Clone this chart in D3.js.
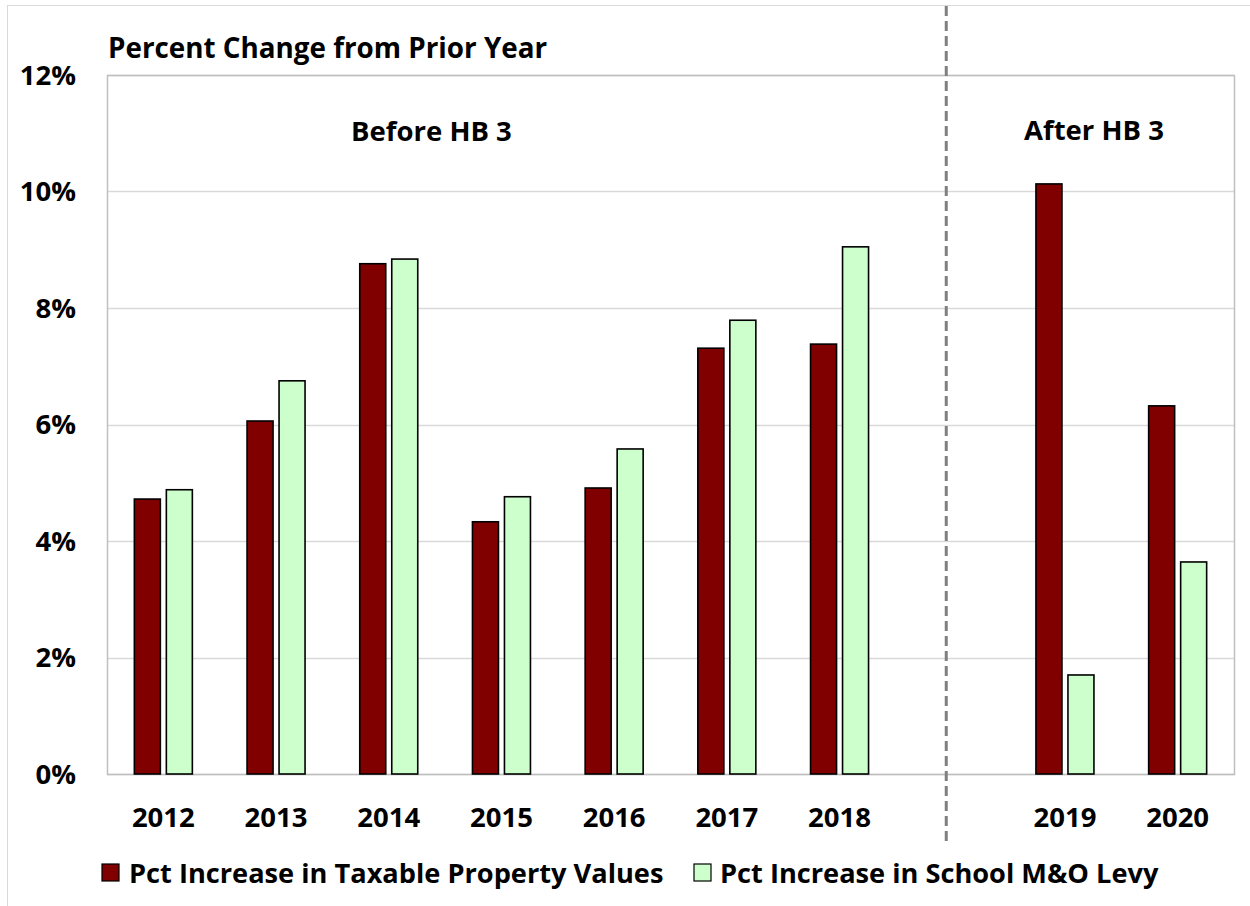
<!DOCTYPE html>
<html><head><meta charset="utf-8">
<script src="https://cdn.jsdelivr.net/npm/d3@7"></script>
<style>body{margin:0;background:#fff}svg{display:block}text{font-family:"Open Sans",sans-serif;font-weight:bold;fill:#000}</style>
</head><body>
<script>
const categories = ["2012","2013","2014","2015","2016","2017","2018","","2019","2020"];
const propertyValues = [4.72, 6.06, 8.76, 4.33, 4.91, 7.31, 7.38, null, 10.13, 6.32];
const levyValues = [4.88, 6.75, 8.84, 4.76, 5.58, 7.79, 9.05, null, 1.70, 3.64];
const yTicks = [0, 2, 4, 6, 8, 10, 12];
const seriesNames = ["Pct Increase in Taxable Property Values", "Pct Increase in School M&O Levy"];
const colors = ["#800000", "#ccffcc"];

const W = 1250, H = 906;
const svg = d3.select("body").append("svg").attr("width", W).attr("height", H);
const m = {left: 107, right: 1234, top: 75, bottom: 774};

svg.append("rect").attr("x", 7.5).attr("y", 5.5).attr("width", W + 10).attr("height", H + 10)
  .attr("fill", "none").attr("stroke", "#d9d9d9").attr("stroke-width", 1);

const x = d3.scaleBand().domain(d3.range(categories.length)).range([m.left, m.right]);
const y = d3.scaleLinear().domain([0, 12]).range([m.bottom, m.top]);

svg.append("g").selectAll("line").data(yTicks).join("line")
  .attr("x1", m.left).attr("x2", m.right)
  .attr("y1", d => Math.round(y(d)) + 0.5).attr("y2", d => Math.round(y(d)) + 0.5)
  .attr("stroke", "#d9d9d9").attr("stroke-width", 1.5);

svg.append("rect").attr("x", m.left + 0.5).attr("y", m.top + 0.5)
  .attr("width", m.right - m.left).attr("height", m.bottom - m.top)
  .attr("fill", "none").attr("stroke", "#bfbfbf").attr("stroke-width", 1.5);

svg.append("g").selectAll("text").data(yTicks).join("text")
  .attr("x", 76).attr("y", d => y(d)).attr("dy", "0.36em")
  .attr("text-anchor", "end").attr("font-size", 27.5)
  .text(d => d + "%");

const bw = 26, gap = 6;
const data = categories.map((c, i) => ({i, c, a: propertyValues[i], b: levyValues[i]})).filter(d => d.c !== "");
const g = svg.append("g");
data.forEach(d => {
  const cx = x(d.i) + x.bandwidth() / 2;
  g.append("rect").attr("x", cx - gap / 2 - bw).attr("width", bw)
    .attr("y", y(d.a)).attr("height", y(0) - y(d.a))
    .attr("fill", colors[0]).attr("stroke", "#000").attr("stroke-width", 1.6);
  g.append("rect").attr("x", cx + gap / 2).attr("width", bw)
    .attr("y", y(d.b)).attr("height", y(0) - y(d.b))
    .attr("fill", colors[1]).attr("stroke", "#000").attr("stroke-width", 1.6);
});

svg.append("g").selectAll("text").data(data).join("text")
  .attr("x", d => x(d.i) + x.bandwidth() / 2).attr("y", 827)
  .attr("text-anchor", "middle").attr("font-size", 27.5).text(d => d.c);

const divX = x(7) + x.bandwidth() / 2 - 6;
svg.append("line").attr("x1", divX).attr("x2", divX).attr("y1", 6).attr("y2", 845)
  .attr("stroke", "#808080").attr("stroke-width", 3).attr("stroke-dasharray", "10,5");

svg.append("text").attr("x", 108).attr("y", 58).attr("font-size", 27.8).text("Percent Change from Prior Year");
svg.append("text").attr("x", x(3) + x.bandwidth() / 2 - 70).attr("y", 141).attr("text-anchor", "middle").attr("font-size", 27.5).text("Before HB 3");
svg.append("text").attr("x", x(8) + x.bandwidth() / 2 + 29).attr("y", 140).attr("text-anchor", "middle").attr("font-size", 27.5).text("After HB 3");

const leg = [{x: 102, tx: 129}, {x: 694, tx: 720}];
leg.forEach((l, i) => {
  svg.append("rect").attr("x", l.x).attr("y", 864).attr("width", 17).attr("height", 17)
    .attr("fill", colors[i]).attr("stroke", "#000").attr("stroke-width", 1.2);
  svg.append("text").attr("x", l.tx).attr("y", 883).attr("font-size", 27.2).text(seriesNames[i]);
});
</script>
</body></html>
